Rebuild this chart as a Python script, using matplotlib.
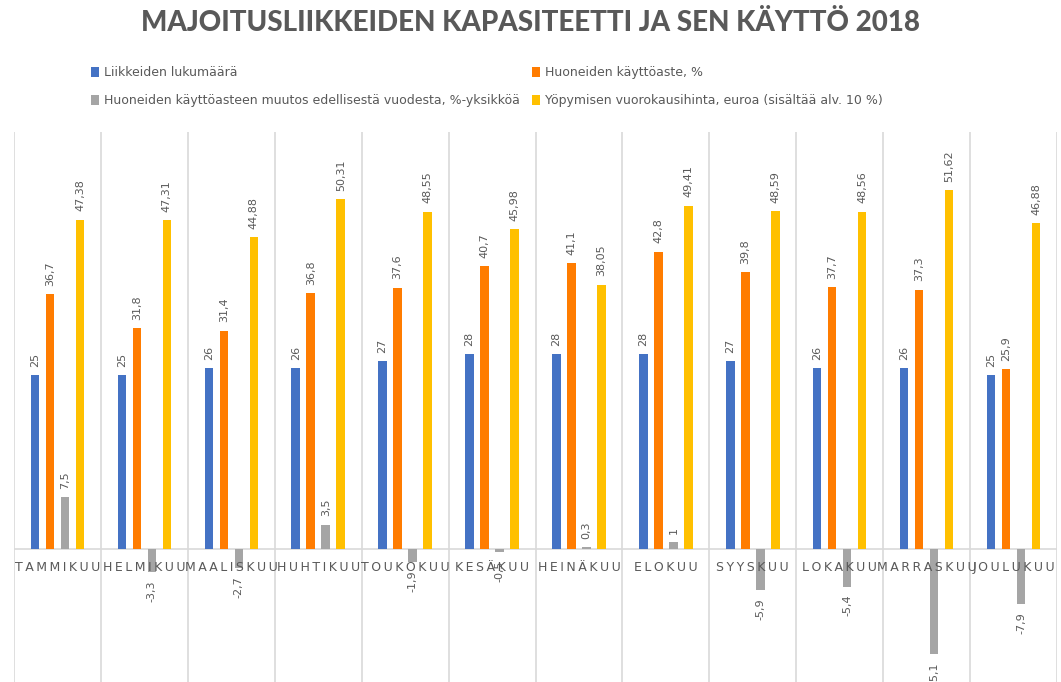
import matplotlib.pyplot as plt
import numpy as np

months = ['TAMMIKUU', 'HELMIKUU', 'MAALISKUU', 'HUHTIKUU', 'TOUKOKUU', 'KESÄKUU',
          'HEINÄKUU', 'ELOKUU', 'SYYSKUU', 'LOKAKUU', 'MARRASKUU', 'JOULUKUU']
lukumaara = [25, 25, 26, 26, 27, 28, 28, 28, 27, 26, 26, 25]
kayttoaste = [36.7, 31.8, 31.4, 36.8, 37.6, 40.7, 41.1, 42.8, 39.8, 37.7, 37.3, 25.9]
muutos = [7.5, -3.3, -2.7, 3.5, -1.9, -0.5, 0.3, 1, -5.9, -5.4, -15.1, -7.9]
hinta = [47.38, 47.31, 44.88, 50.31, 48.55, 45.98, 38.05, 49.41, 48.59, 48.56, 51.62, 46.88]

series = [
    (lukumaara, '#4472C4', 'Liikkeiden lukumäärä'),
    (kayttoaste, '#FF7C00', 'Huoneiden käyttöaste, %'),
    (muutos, '#A5A5A5', 'Huoneiden käyttöasteen muutos edellisestä vuodesta, %-yksikköä'),
    (hinta, '#FFC000', 'Yöpymisen vuorokausihinta, euroa (sisältää alv. 10 %)'),
]

txt_color = '#595959'


def fmt(v):
    s = ('%g' % v).replace('.', ',')
    return s


fig = plt.figure(figsize=(10.61, 6.82), dpi=100)
ax = fig.add_axes([14 / 1061, 1 - 688 / 682, 1043 / 1061, (688 - 132) / 682])

x = np.arange(len(months))
pitch = 0.1726
width = 0.098
handles = []
for i, (vals, col, lab) in enumerate(series):
    off = (i - 1.5) * pitch
    b = ax.bar(x + off, vals, width, color=col, label=lab, zorder=3)
    handles.append(b)
    for xi, v in zip(x, vals):
        if v >= 0:
            ax.text(xi + off, v + 1.2, fmt(v), rotation=90, ha='center', va='bottom',
                    fontsize=8, color=txt_color)
        else:
            ax.text(xi + off, v - 1.2, fmt(v), rotation=90, ha='center', va='top',
                    fontsize=8, color=txt_color)

ax.set_xlim(-0.5, len(months) - 0.5)
ax.set_ylim(-20, 60)

# separators between months
for b in np.arange(-0.5, len(months), 1.0):
    ax.axvline(b, color='#D9D9D9', lw=1.2, zorder=1)
ax.axhline(0, color='#D9D9D9', lw=1.2, zorder=2)

for xi, m in zip(x, months):
    ax.text(xi, -1.7, '\u2009'.join(m), ha='center', va='top', fontsize=9,
            color=txt_color, zorder=4)

ax.set_xticks([])
ax.set_yticks([])
for s in ax.spines.values():
    s.set_visible(False)

fig.text(0.5, 0.967, 'MAJOITUSLIIKKEIDEN KAPASITEETTI JA SEN KÄYTTÖ 2018',
         ha='center', va='center', fontsize=20, fontweight='black', color=txt_color,
         family='Lato')

order = [handles[0], handles[2], handles[1], handles[3]]
fig.legend(order, [h.get_label() for h in order], ncol=2, loc='upper left',
           bbox_to_anchor=(80 / 1061, 1 - 55 / 682), frameon=False, fontsize=9,
           labelcolor=txt_color, handlelength=0.6, handleheight=0.8,
           handletextpad=0.4, columnspacing=1.0, labelspacing=1.2)

plt.savefig('out.png', dpi=100)
